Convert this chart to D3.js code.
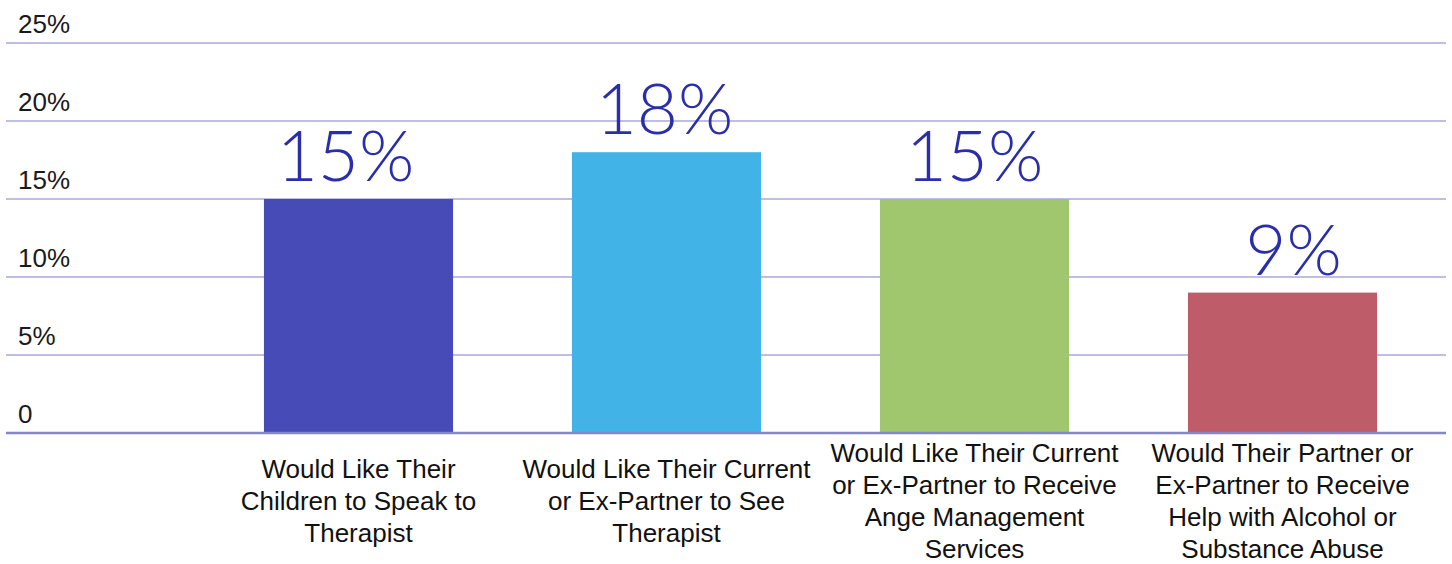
<!DOCTYPE html>
<html>
<head>
<meta charset="utf-8">
<script src="https://cdn.jsdelivr.net/npm/d3@7/dist/d3.min.js"></script>
<style>
  html, body { margin: 0; padding: 0; background: #ffffff; }
  svg { display: block; }
</style>
</head>
<body>
<svg id="chart" width="1452" height="564"></svg>
<script>
// Share of respondents wanting each kind of help
const categories = [
  ["Would Like Their", "Children to Speak to", "Therapist"],
  ["Would Like Their Current", "or Ex-Partner to See", "Therapist"],
  ["Would Like Their Current", "or Ex-Partner to Receive", "Ange Management", "Services"],
  ["Would Their Partner or", "Ex-Partner to Receive", "Help with Alcohol or", "Substance Abuse"]
];
const values = [15, 18, 15, 9];
const barColors = ["#464bb8", "#41b3e6", "#a0c76e", "#bf5c69"];
const tickValues = [0, 5, 10, 15, 20, 25];
const tickLabels = ["0", "5%", "10%", "15%", "20%", "25%"];
// horizontal nudge of each value label from its bar centre (px)
const labelNudge = [-13, -2, 0, 11];

const svg = d3.select("#chart");

const x = d3.scaleBand()
  .domain(d3.range(values.length))
  .range([204.5, 1436.5])
  .paddingInner(0.386)
  .paddingOuter(0.193);

const y = d3.scaleLinear().domain([0, 25]).range([433, 43]);

// Horizontal gridlines with their labels above the left end
const grid = svg.append("g");
grid.selectAll("line")
  .data(tickValues.filter(d => d !== 0))
  .join("line")
  .attr("x1", 6).attr("x2", 1446)
  .attr("y1", d => y(d)).attr("y2", d => y(d))
  .attr("stroke", "#a9a9dd")
  .attr("stroke-width", 1.6);

grid.selectAll("text")
  .data(tickValues)
  .join("text")
  .attr("x", 18)
  .attr("y", d => y(d) - 10)
  .attr("font-family", "'Liberation Sans', Arial, sans-serif")
  .attr("font-size", 26)
  .attr("fill", "#1a1a1a")
  .text((d, i) => tickLabels[i]);

// Bars
svg.append("g").selectAll("rect")
  .data(values)
  .join("rect")
  .attr("x", (d, i) => x(i))
  .attr("width", x.bandwidth())
  .attr("y", d => y(d))
  .attr("height", d => y(0) - y(d))
  .attr("fill", (d, i) => barColors[i]);

// Baseline
svg.append("line")
  .attr("x1", 6).attr("x2", 1446)
  .attr("y1", y(0)).attr("y2", y(0))
  .attr("stroke", "#8585d2")
  .attr("stroke-width", 2.6);

// Value labels
svg.append("g").selectAll("text")
  .data(values)
  .join("text")
  .attr("x", (d, i) => x(i) + x.bandwidth() / 2 + labelNudge[i])
  .attr("y", d => y(d) - 18)
  .attr("text-anchor", "middle")
  .attr("font-family", "Lato, 'Noto Sans', sans-serif")
  .attr("font-weight", 300)
  .attr("font-size", 71)
  .attr("fill", "#2a2ea8")
  .text(d => d + "%");

// Category labels, centred vertically under each bar
const lineH = 32;
const catG = svg.append("g");
categories.forEach((lines, i) => {
  const cx = x(i) + x.bandwidth() / 2;
  const firstBase = 510 - (lines.length - 1) * lineH / 2;
  const t = catG.append("text")
    .attr("text-anchor", "middle")
    .attr("font-family", "'Liberation Sans', Arial, sans-serif")
    .attr("font-size", 26)
    .attr("fill", "#111111");
  lines.forEach((ln, k) => {
    t.append("tspan")
      .attr("x", cx)
      .attr("y", firstBase + k * lineH)
      .text(ln);
  });
});
</script>
</body>
</html>
